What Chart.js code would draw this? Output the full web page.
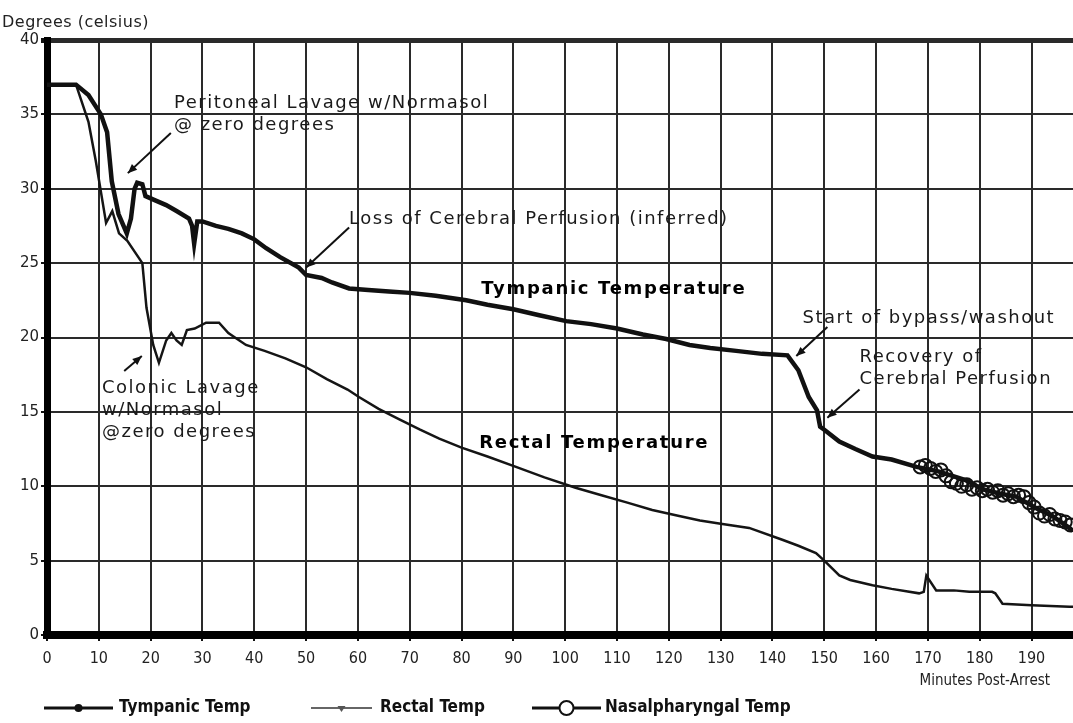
<!DOCTYPE html>
<html>
<head>
<meta charset="utf-8">
<script src="https://cdn.jsdelivr.net/npm/chart.js@4.4.1/dist/chart.umd.min.js"></script>
<style>
  html, body { margin: 0; padding: 0; background: #fff; overflow: hidden; }
  #wrap { width: 1073px; height: 723px; }
  canvas { display: block; }
</style>
</head>
<body>
<div id="wrap"><canvas id="temp_chart" width="1073" height="723"></canvas></div>
<script>
// ---------------------------------------------------- donnees
const tympMin = [0, 5.6, 8, 10.4, 11.6, 12.5, 13.8, 15.4, 16.2, 16.9, 17.4, 18.4, 19, 21, 23, 25, 27.4, 28, 28.4, 29, 30, 32.6, 35, 37.6, 40, 42.3, 45, 48.6, 50, 53, 55, 58.3, 62, 66, 70, 75, 80.9, 85, 90, 95, 100.2, 105, 110, 115, 119.5, 124, 128, 133, 138, 142.9, 145, 147, 148.6, 149.2, 150, 152.9, 156, 159.3, 163, 167.8, 172, 177.4, 180.5, 184, 187, 191, 194, 197.3, 198];
const tympVal = [37, 37, 36.3, 35, 33.8, 30.5, 28.3, 27, 28, 30, 30.4, 30.3, 29.5, 29.2, 28.9, 28.5, 28, 27.5, 26.3, 27.8, 27.8, 27.5, 27.3, 27, 26.6, 26, 25.4, 24.7, 24.2, 24, 23.7, 23.3, 23.2, 23.1, 23.0, 22.8, 22.5, 22.2, 21.9, 21.5, 21.1, 20.9, 20.6, 20.2, 19.9, 19.5, 19.3, 19.1, 18.9, 18.8, 17.8, 16.0, 15.1, 14.0, 13.8, 13.0, 12.5, 12.0, 11.8, 11.3, 11.0, 10.4, 9.8, 9.5, 9.3, 8.5, 8.0, 7.2, 7.0];

const rectMin = [0, 5.6, 8, 9.4, 11.4, 12.6, 13.9, 15.5, 18.4, 19.2, 20.5, 21.6, 23, 24, 25, 26, 27, 28.5, 30.7, 33.2, 35, 38.4, 42, 46, 50, 54, 58, 60.2, 64, 68, 72, 75.7, 80, 85, 90.5, 96, 102, 107, 112, 116.8, 122, 126, 129.7, 135.5, 141.9, 145, 148.4, 150, 152.9, 155, 159.3, 163, 168.3, 169.2, 169.7, 171.6, 175, 178, 182.4, 183, 184.4, 190, 197.3, 198];
const rectVal = [37, 37, 34.5, 31.9, 27.7, 28.5, 27, 26.5, 25, 22, 19.5, 18.3, 19.8, 20.3, 19.8, 19.5, 20.5, 20.6, 21, 21, 20.3, 19.5, 19.1, 18.6, 18, 17.2, 16.5, 16, 15.2, 14.5, 13.8, 13.2, 12.6, 12.0, 11.3, 10.6, 9.9, 9.4, 8.9, 8.4, 8.0, 7.7, 7.5, 7.2, 6.4, 6.0, 5.5, 5.0, 4.0, 3.7, 3.35, 3.1, 2.8, 2.9, 4.0, 3.0, 3.0, 2.9, 2.9, 2.8, 2.1, 2.0, 1.9, 1.9];

const nasalMin = [168.5, 169.5, 170.5, 171.5, 172.5, 173.5, 174.5, 175.5, 176.5, 177.5, 178.5, 179.5, 180.5, 181.5, 182.5, 183.5, 184.5, 185.5, 186.5, 187.5, 188.5, 189.5, 190.5, 191.5, 192.5, 193.5, 194.5, 195.5, 196.5, 197.5];
const nasalVal = [11.3, 11.4, 11.2, 11.0, 11.1, 10.7, 10.3, 10.2, 10.0, 10.1, 9.8, 9.9, 9.7, 9.8, 9.6, 9.7, 9.4, 9.5, 9.3, 9.4, 9.3, 8.9, 8.6, 8.2, 8.0, 8.1, 7.8, 7.7, 7.6, 7.4];

const serieNoms = ["Tympanic Temp", "Rectal Temp", "Nasalpharyngal Temp"];
const yTitre = "Degrees (celsius)";
const xTitre = "Minutes Post-Arrest";

// annotations : [texte(s), x, y de la 1ere ligne, gras]
const notes = [
	[["Peritoneal Lavage w/Normasol", "@ zero degrees"], 24.5, 35.4, false],
	[["Loss of Cerebral Perfusion (inferred)"], 58.3, 27.6, false],
	[["Tympanic Temperature"], 83.8, 22.9, true],
	[["Rectal Temperature"], 83.4, 12.6, true],
	[["Start of bypass/washout"], 145.8, 21.0, false],
	[["Recovery of", "Cerebral Perfusion"], 156.8, 18.35, false],
	[["Colonic Lavage", "w/Normasol", "@zero degrees"], 10.6, 16.3, false]
];
// fleches : [x queue, y queue, x pointe, y pointe]
const fleches = [
	[23.9, 33.75, 15.6, 31.05],
	[58.3, 27.4, 50, 24.7],
	[150.6, 20.7, 144.6, 18.75],
	[156.8, 16.5, 150.6, 14.6],
	[14.9, 17.75, 18.3, 18.75]
];

const FONT = '"DejaVu Sans", Arial, sans-serif';
const NARROW = '"DejaVu Sans Condensed", "Liberation Sans Narrow", Arial, sans-serif';

function points(xs, ys){
	return xs.map(function(x, i){ return {x: x, y: ys[i]}; });
}

//------------------------------------------------------------------- textes + legende
const dessinTextes = {
	id: 'dessinTextes',
	afterDraw(chart){
		const ctx = chart.ctx;
		const xs = chart.scales.x, ys = chart.scales.y;
		const area = chart.chartArea;
		ctx.save();

		// titre axe y
		ctx.fillStyle = '#222';
		ctx.font = '16px ' + FONT;
		ctx.letterSpacing = '0.5px';
		ctx.textBaseline = 'alphabetic';
		ctx.textAlign = 'left';
		ctx.fillText(yTitre, 2, 27);

		// annotations
		for (const n of notes){
			ctx.font = (n[3] ? 'bold 18px ' : '18px ') + FONT;
			ctx.letterSpacing = n[3] ? '1.7px' : '1.5px';
			ctx.fillStyle = n[3] ? '#000' : '#1a1a1a';
			let px = xs.getPixelForValue(n[1]);
			let py = ys.getPixelForValue(n[2]);
			n[0].forEach(function(t, i){ ctx.fillText(t, px, py + i * 22); });
		}
		ctx.letterSpacing = '0px';

		// fleches
		ctx.strokeStyle = '#111';
		ctx.fillStyle = '#111';
		ctx.lineWidth = 2;
		for (const f of fleches){
			const x1 = xs.getPixelForValue(f[0]), y1 = ys.getPixelForValue(f[1]);
			const x2 = xs.getPixelForValue(f[2]), y2 = ys.getPixelForValue(f[3]);
			const a = Math.atan2(y2 - y1, x2 - x1);
			ctx.beginPath(); ctx.moveTo(x1, y1); ctx.lineTo(x2, y2); ctx.stroke();
			ctx.beginPath();
			ctx.moveTo(x2, y2);
			ctx.lineTo(x2 - 10 * Math.cos(a - 0.4), y2 - 10 * Math.sin(a - 0.4));
			ctx.lineTo(x2 - 10 * Math.cos(a + 0.4), y2 - 10 * Math.sin(a + 0.4));
			ctx.closePath(); ctx.fill();
		}

		// titre axe x
		ctx.font = '15px ' + NARROW;
		ctx.fillStyle = '#222';
		ctx.textAlign = 'right';
		ctx.textBaseline = 'middle';
		ctx.fillText(xTitre, 1050, area.bottom + 46);

		// legende
		const ly = area.bottom + 73;
		const items = [[44, 113, 119], [311, 372, 380], [532, 601, 605]];
		ctx.textAlign = 'left';
		ctx.font = 'bold 17px ' + NARROW;
		items.forEach(function(it, i){
			const ds = chart.data.datasets[i];
			ctx.strokeStyle = i == 1 ? '#666' : '#111';
			ctx.lineWidth = i == 1 ? 2 : 3;
			ctx.beginPath(); ctx.moveTo(it[0], ly); ctx.lineTo(it[1], ly); ctx.stroke();
			const mx = (it[0] + it[1]) / 2;
			ctx.fillStyle = '#111';
			if (i == 0){
				ctx.beginPath(); ctx.arc(mx, ly, 4, 0, 2 * Math.PI); ctx.fill();
			} else if (i == 1){
				ctx.fillStyle = '#555';
				ctx.beginPath(); ctx.moveTo(mx - 4, ly - 2); ctx.lineTo(mx + 4, ly - 2); ctx.lineTo(mx, ly + 4); ctx.closePath(); ctx.fill();
			} else {
				ctx.lineWidth = 2;
				ctx.beginPath(); ctx.arc(mx, ly, 7, 0, 2 * Math.PI);
				ctx.fillStyle = '#fff'; ctx.fill(); ctx.stroke();
			}
			ctx.fillStyle = '#111';
			ctx.fillText(ds.label, it[2], ly);
		});
		ctx.restore();
	}
};

new Chart(document.getElementById("temp_chart"), {
	type: 'line',
	data: {
		datasets: [
			{
				label: serieNoms[0],
				data: points(tympMin, tympVal),
				borderColor: '#111',
				borderWidth: 4.5,
				pointRadius: 0,
				tension: 0
			},
			{
				label: serieNoms[1],
				data: points(rectMin, rectVal),
				borderColor: '#151515',
				borderWidth: 2.5,
				pointRadius: 0,
				tension: 0
			},
			{
				label: serieNoms[2],
				data: points(nasalMin, nasalVal),
				borderColor: '#111',
				borderWidth: 2,
				showLine: false,
				pointRadius: 6.5,
				pointBorderWidth: 2,
				pointBackgroundColor: 'rgba(255,255,255,0)',
				pointBorderColor: '#111'
			}
		]
	},
	options: {
		responsive: false,
		animation: false,
		layout: { autoPadding: false, padding: { left: 0, right: 0, top: 40, bottom: 52 } },
		plugins: {
			legend: { display: false },
			tooltip: { enabled: false },
			title: { display: false }
		},
		scales: {
			x: {
				type: 'linear',
				min: 0,
				max: 198,
				afterBuildTicks: function(s){ s.ticks = s.ticks.filter(function(t){ return t.value % 10 === 0; }); },
				afterFit: function(s){ s.height = 36; s.paddingLeft = 0; s.paddingRight = 0; },
				ticks: { stepSize: 10, includeBounds: false, autoSkip: false, maxRotation: 0, padding: 8, color: '#222', font: { family: NARROW, size: 16 } },
				grid: { color: '#2a2a2a', lineWidth: 2, tickLength: 6, tickColor: '#111' },
				border: { color: '#000', width: 8 }
			},
			y: {
				min: 0,
				max: 40,
				afterFit: function(s){ s.width = 47; },
				ticks: { stepSize: 5, padding: 2, color: '#222', font: { family: FONT, size: 15 } },
				grid: {
					color: '#2a2a2a',
					lineWidth: function(c){ return c.tick && c.tick.value === 40 ? 5 : 2; },
					tickLength: 6,
					tickColor: '#111'
				},
				border: { color: '#000', width: 7 }
			}
		}
	},
	plugins: [dessinTextes]
});
</script>
</body>
</html>
